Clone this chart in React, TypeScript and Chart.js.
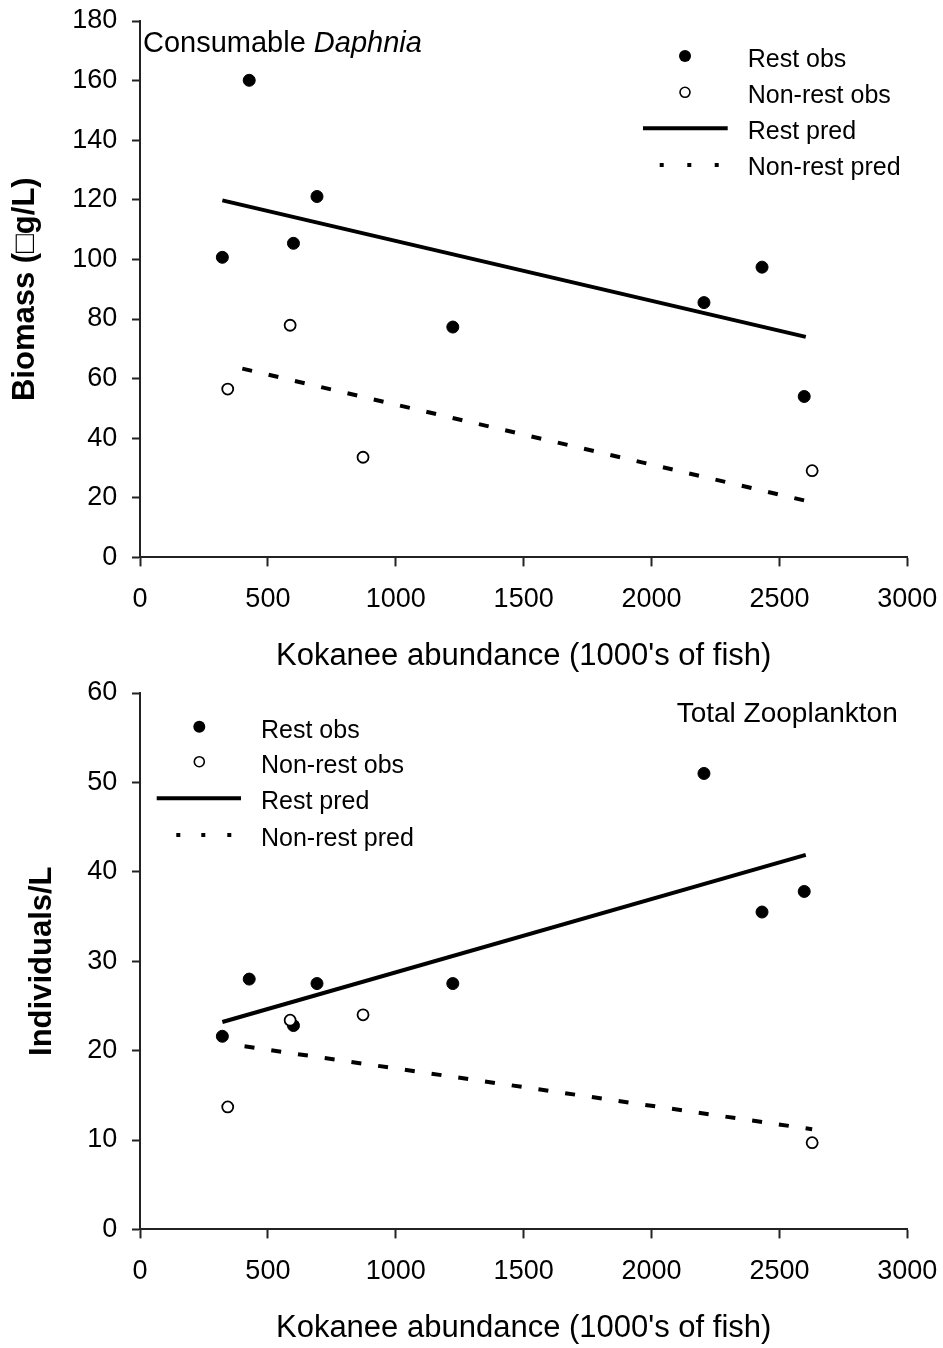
import React, { useEffect, useRef } from 'react';
import { Chart, registerables } from 'chart.js';

Chart.register(...registerables);

const FONT = '"Liberation Sans", Arial, Helvetica, sans-serif';

// ---- data ----
const xTickValues = [0, 500, 1000, 1500, 2000, 2500, 3000];
const seriesNames = ['Rest obs', 'Non-rest obs', 'Rest pred', 'Non-rest pred'];
const xTitle = "Kokanee abundance (1000's of fish)";

// Kokanee abundance (1000's of fish)
const restX = [322, 427, 600, 692, 1223, 2205, 2432, 2597];
const nonRestX = [343, 587, 872, 2628];
const restPredX = [322, 2603];
const nonRestPredX = [343, 2628];

// Panel 1: Consumable Daphnia biomass
const biomassTitle = ['Consumable ', 'Daphnia'];
const biomassYTitle = 'Biomass (\u25A1g/L)';
const restBiomass = [100.7, 160.1, 105.4, 121.1, 77.3, 85.5, 97.4, 54.0];
const nonRestBiomass = [56.5, 77.9, 33.6, 29.1];
const restPredBiomass = [119.8, 74.0];
const nonRestPredBiomass = [64.5, 18.5];

// Panel 2: Total zooplankton
const zooTitle = ['Total Zooplankton'];
const zooYTitle = 'Individuals/L';
const restZoo = [21.6, 28.0, 22.8, 27.5, 27.5, 51.0, 35.5, 37.8];
const nonRestZoo = [13.7, 23.4, 24.0, 9.7];
const restPredZoo = [23.2, 41.9];
const nonRestPredZoo = [20.75, 11.2];

const pts = (xs: number[], ys: number[]) => xs.map((x, i) => ({ x, y: ys[i] }));

const decorPlugin = {
  id: 'decor',
  afterDraw(chart: any, _args: any, opts: any) {
    const ctx = chart.ctx as CanvasRenderingContext2D;
    ctx.save();
    // panel title (mixed italic)
    const t = opts.title;
    let x = t.x;
    ctx.fillStyle = '#000';
    ctx.textAlign = 'left';
    ctx.textBaseline = 'alphabetic';
    t.parts.forEach((p: string, i: number) => {
      const italic = t.italicIndex === i;
      ctx.font = `${italic ? 'italic ' : ''}${t.size}px ${FONT}`;
      ctx.fillText(p, x, t.y);
      x += ctx.measureText(p).width;
    });
    // legend
    const L = opts.legend;
    ctx.font = `${L.size}px ${FONT}`;
    seriesNames.forEach((name, i) => ctx.fillText(name, L.textX, L.baselines[i]));
    // filled marker
    ctx.beginPath();
    ctx.arc(L.markerX, L.rows[0], 6, 0, Math.PI * 2);
    ctx.fillStyle = '#000';
    ctx.fill();
    // open marker
    ctx.beginPath();
    ctx.arc(L.markerX, L.rows[1], 5, 0, Math.PI * 2);
    ctx.fillStyle = '#fff';
    ctx.fill();
    ctx.lineWidth = 1.6;
    ctx.strokeStyle = '#000';
    ctx.stroke();
    // solid line
    ctx.beginPath();
    ctx.moveTo(L.lineX0, L.rows[2]);
    ctx.lineTo(L.lineX1, L.rows[2]);
    ctx.lineWidth = 4;
    ctx.stroke();
    // dotted
    ctx.fillStyle = '#000';
    L.dots.forEach((dx: number) => ctx.fillRect(dx - 2, L.rows[3] - 2, 4, 4));
    ctx.restore();
  },
};

function makeConfig(p: {
  restY: number[]; nonRestY: number[]; restPredY: number[]; nonRestPredY: number[];
  yMax: number; yStep: number; yTitle: string; yTitlePad: number; dashOffset: number;
  title: any; legend: any;
}) {
  return {
    type: 'scatter',
    data: {
      datasets: [
        {
          label: seriesNames[0], data: pts(restX, p.restY), order: 1,
          pointRadius: 6, pointBackgroundColor: '#000', pointBorderColor: '#000', pointBorderWidth: 1,
          showLine: false,
        },
        {
          label: seriesNames[1], data: pts(nonRestX, p.nonRestY), order: 0,
          pointRadius: 5.5, pointBackgroundColor: '#fff', pointBorderColor: '#000', pointBorderWidth: 1.8,
          showLine: false,
        },
        {
          label: seriesNames[2], data: pts(restPredX, p.restPredY), order: 2,
          showLine: true, pointRadius: 0, borderColor: '#000', borderWidth: 4, borderCapStyle: 'butt',
        },
        {
          label: seriesNames[3], data: pts(nonRestPredX, p.nonRestPredY), order: 3,
          showLine: true, pointRadius: 0, borderColor: '#000', borderWidth: 4, borderCapStyle: 'butt',
          borderDash: [10, 17], borderDashOffset: p.dashOffset,
        },
      ],
    },
    options: {
      animation: false,
      responsive: true,
      maintainAspectRatio: false,
      layout: { padding: { top: 21, right: 35.7, bottom: 0, left: 0 } },
      plugins: {
        legend: { display: false },
        tooltip: { enabled: false },
        decor: { title: p.title, legend: p.legend },
      },
      scales: {
        x: {
          type: 'linear', min: 0, max: 3000,
          afterBuildTicks: (s: any) => { s.ticks = xTickValues.map((v) => ({ value: v })); },
          ticks: {
            color: '#000', font: { family: FONT, size: 27 }, padding: 17,
            maxRotation: 0, autoSkip: false, callback: (v: any) => String(v),
          },
          grid: { drawOnChartArea: false, drawTicks: true, tickLength: 9, tickWidth: 2, color: '#222' },
          border: { display: true, color: '#222', width: 2 },
          title: {
            display: true, text: xTitle, color: '#000',
            font: { family: FONT, size: 31, lineHeight: 1 }, padding: { top: 0, bottom: 0 },
          },
          afterFit: (s: any) => { s.height = 114.6; s.paddingLeft = 0; s.paddingRight = 0; },
        },
        y: {
          type: 'linear', min: 0, max: p.yMax,
          ticks: {
            stepSize: p.yStep, color: '#000', font: { family: FONT, size: 27 }, padding: 14.7,
            callback: (v: any) => String(v),
          },
          grid: { drawOnChartArea: false, drawTicks: true, tickLength: 8, tickWidth: 2, color: '#222' },
          border: { display: true, color: '#222', width: 2 },
          title: {
            display: true, text: p.yTitle, color: '#000',
            font: { family: FONT, size: 31, weight: 'bold', lineHeight: 1 },
            padding: { top: p.yTitlePad, bottom: 0 },
          },
          afterFit: (s: any) => { s.width = 140; s.paddingTop = 0; s.paddingBottom = 0; },
        },
      },
    },
    plugins: [decorPlugin],
  } as any;
}

function Panel({ top, build }: { top: number; build: () => any }) {
  const ref = useRef<HTMLCanvasElement>(null);
  useEffect(() => {
    const chart = new Chart(ref.current as HTMLCanvasElement, build());
    return () => chart.destroy();
  }, []);
  return (
    <div style={{ position: 'absolute', left: 0, top, width: 943, height: 672 }}>
      <canvas ref={ref} />
    </div>
  );
}

export default function App() {
  return (
    <div style={{ position: 'absolute', left: 0, top: 0, width: 943, height: 1344, background: '#fff' }}>
      <Panel
        top={0}
        build={() =>
          makeConfig({
            restY: restBiomass, nonRestY: nonRestBiomass, restPredY: restPredBiomass, nonRestPredY: nonRestPredBiomass,
            yMax: 180, yStep: 20, yTitle: biomassYTitle, yTitlePad: 10.4, dashOffset: 12,
            title: { x: 143, y: 51.7, size: 29, parts: biomassTitle, italicIndex: 1 },
            legend: {
              size: 25, markerX: 685, textX: 747.7, lineX0: 643, lineX1: 727.7,
              dots: [661.7, 689.3, 716.7], rows: [56, 92.3, 128.3, 165], baselines: [66.7, 103.3, 139.3, 175],
            },
          })
        }
      />
      <Panel
        top={672}
        build={() =>
          makeConfig({
            restY: restZoo, nonRestY: nonRestZoo, restPredY: restPredZoo, nonRestPredY: nonRestPredZoo,
            yMax: 60, yStep: 10, yTitle: zooYTitle, yTitlePad: 27.1, dashOffset: 10,
            title: { x: 676.7, y: 50.3, size: 28, parts: zooTitle, italicIndex: -1 },
            legend: {
              size: 25, markerX: 199.3, textX: 261, lineX0: 156.7, lineX1: 241,
              dots: [178.3, 203.3, 229.3], rows: [54.7, 89.7, 126.3, 163], baselines: [66.3, 101.3, 137.3, 174],
            },
          })
        }
      />
    </div>
  );
}
